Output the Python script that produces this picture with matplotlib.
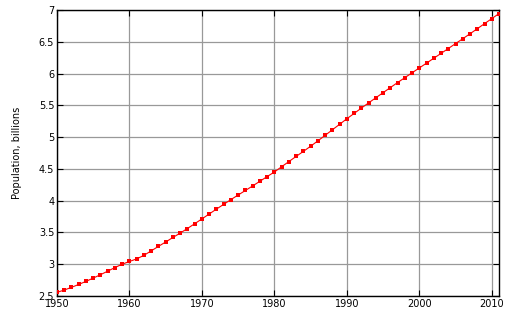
import numpy as np
import matplotlib
matplotlib.use("Agg")
from matplotlib import pyplot as plt
from matplotlib import ticker

years = list(range(1950, 2012))
population = [2.557, 2.594, 2.636, 2.682, 2.730, 2.782, 2.835, 2.891, 2.948, 3.001,
              3.043, 3.084, 3.140, 3.210, 3.281, 3.350, 3.421, 3.490, 3.562, 3.637,
              3.713, 3.790, 3.867, 3.942, 4.017, 4.089, 4.160, 4.232, 4.305, 4.379,
              4.451, 4.534, 4.615, 4.696, 4.775, 4.856, 4.941, 5.027, 5.115, 5.201,
              5.289, 5.372, 5.456, 5.538, 5.619, 5.699, 5.779, 5.858, 5.935, 6.012,
              6.088, 6.164, 6.241, 6.317, 6.394, 6.471, 6.548, 6.626, 6.705, 6.785,
              6.864, 6.944]
yticks = [2.5, 3, 3.5, 4, 4.5, 5, 5.5, 6, 6.5, 7]
ytick_labels = ["2.5", "3", "3.5", "4", "4.5", "5", "5.5", "6", "6.5", "7"]

fig = plt.figure(figsize=(5.12, 3.2), dpi=100)
ax = fig.add_axes([57/512, 24/320, 442/512, 286/320])

ax.plot(years, population, color="red", lw=0.8, marker="s", ms=3.2,
        markeredgewidth=0, zorder=3)

ax.set_xlim(1950, 2011)
ax.set_ylim(2.5, 7)
ax.set_xticks(range(1950, 2011, 10))
ax.set_yticks(yticks)
ax.set_yticklabels(ytick_labels)
ax.grid(True, color="#999999", lw=0.9)
ax.tick_params(direction="in", top=True, right=True, labelsize=7, length=4, pad=2)
for s in ax.spines.values():
    s.set_linewidth(1.0)

ax.set_ylabel("Population, billions", fontsize=7, labelpad=12)

fig.savefig("out.png", dpi=100)
